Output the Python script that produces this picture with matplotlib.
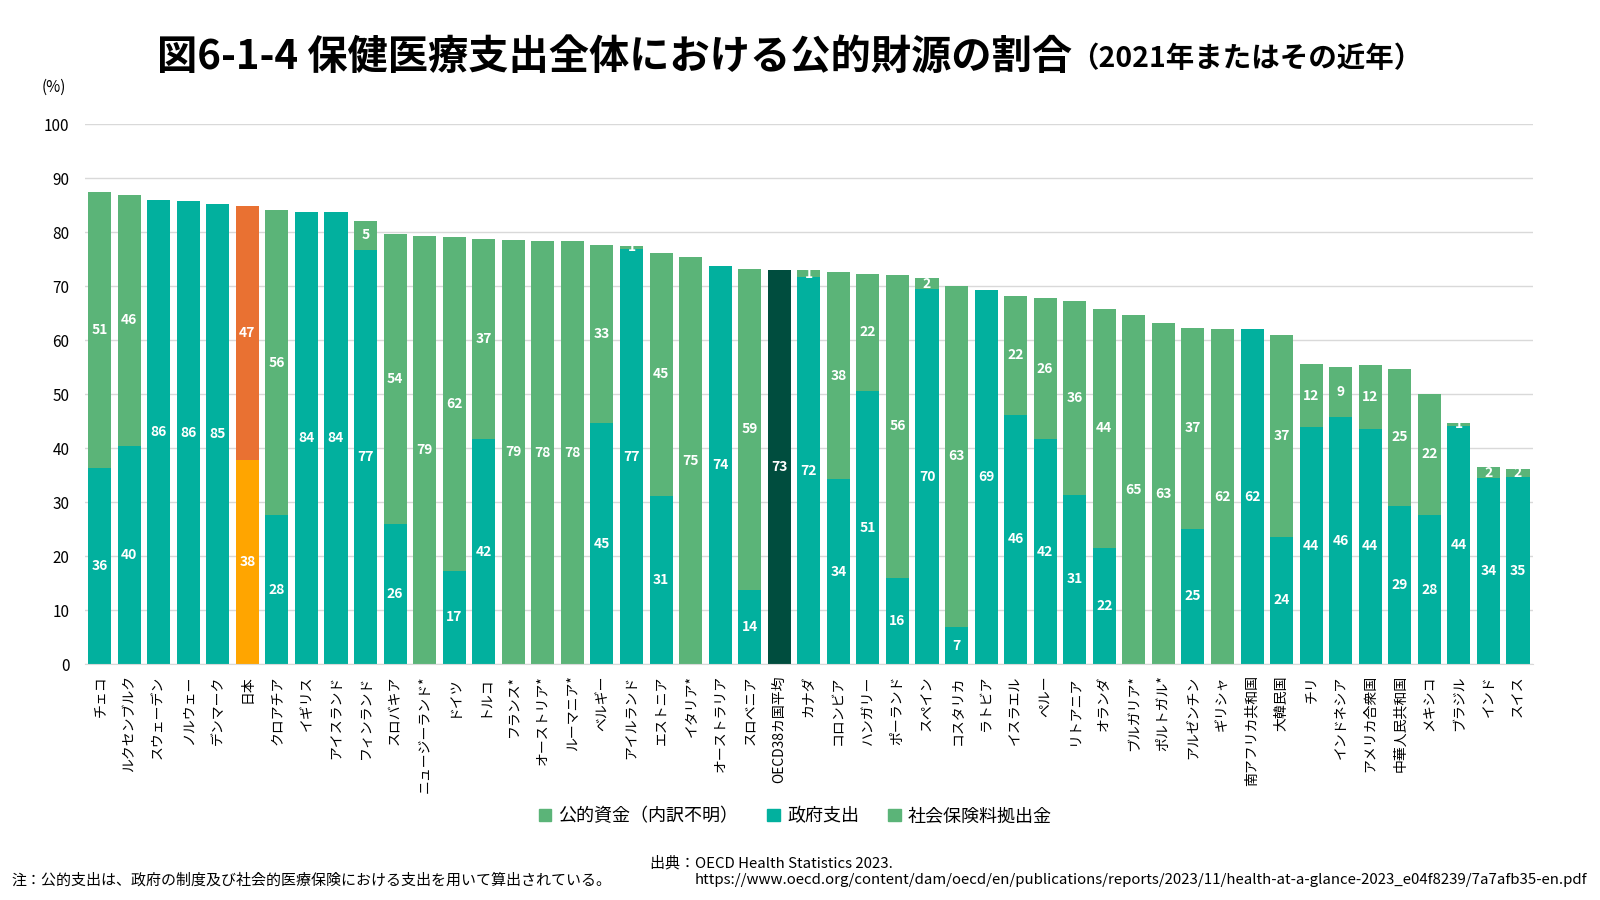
import matplotlib.pyplot as plt
from matplotlib.patches import Patch

plt.rcParams['font.family'] = ['Noto Sans CJK JP', 'DejaVu Sans']

countries = ['チェコ', 'ルクセンブルク', 'スウェーデン', 'ノルウェー', 'デンマーク', '日本',
             'クロアチア', 'イギリス', 'アイスランド', 'フィンランド', 'スロバキア', 'ニュージーランド*',
             'ドイツ', 'トルコ', 'フランス*', 'オーストリア*', 'ルーマニア*', 'ベルギー',
             'アイルランド', 'エストニア', 'イタリア*', 'オーストラリア', 'スロベニア', 'OECD38カ国平均',
             'カナダ', 'コロンビア', 'ハンガリー', 'ポーランド', 'スペイン', 'コスタリカ',
             'ラトビア', 'イスラエル', 'ペルー', 'リトアニア', 'オランダ', 'ブルガリア*',
             'ポルトガル*', 'アルゼンチン', 'ギリシャ', '南アフリカ共和国', '大韓民国', 'チリ',
             'インドネシア', 'アメリカ合衆国', '中華人民共和国', 'メキシコ', 'ブラジル', 'インド', 'スイス']

# 政府支出
government = [36.4, 40.4, 86.0, 85.8, 85.2, 37.8,
              27.6, 83.8, 83.8, 76.7, 26.0, 0,
              17.3, 41.7, 0, 0, 0, 44.6,
              76.9, 31.2, 0, 73.8, 13.8, 73.0,
              71.7, 34.3, 50.6, 16.0, 69.5, 6.9,
              69.3, 46.2, 41.7, 31.4, 21.5, 0,
              0, 25.1, 0, 62.1, 23.6, 43.9,
              45.8, 43.6, 29.3, 27.6, 44.1, 34.4, 34.6]

# 社会保険料拠出金
social = [51.1, 46.5, 0, 0, 0, 47.1,
          56.5, 0, 0, 5.4, 53.7, 0,
          61.9, 37.1, 0, 0, 0, 33.0,
          0.6, 45.0, 0, 0, 59.4, 0,
          1.3, 38.3, 21.7, 56.1, 2.0, 63.2,
          0, 22.0, 26.1, 35.9, 44.3, 0,
          0, 37.2, 62.1, 0, 37.4, 11.7,
          9.3, 11.8, 25.4, 22.5, 0.6, 2.1, 1.6]

# 公的資金（内訳不明）
unspecified = [0, 0, 0, 0, 0, 0,
               0, 0, 0, 0, 0, 79.3,
               0, 0, 78.6, 78.4, 78.4, 0,
               0, 0, 75.4, 0, 0, 0,
               0, 0, 0, 0, 0, 0,
               0, 0, 0, 0, 0, 64.7,
               63.2, 0, 0, 0, 0, 0,
               0, 0, 0, 0, 0, 0, 0]

TEAL = '#02B09E'
GREEN = '#5BB478'

gov_colors = [TEAL] * len(countries)
soc_colors = [GREEN] * len(countries)
gov_colors[countries.index('日本')] = '#FFA500'
soc_colors[countries.index('日本')] = '#E97132'
gov_colors[countries.index('OECD38カ国平均')] = '#004D3E'

fig = plt.figure(figsize=(16, 9), dpi=100)
ax = fig.add_axes([0.053, 0.262, 0.905, 0.6])

x = list(range(len(countries)))
w = 0.78
ax.bar(x, unspecified, w, color=GREEN, zorder=2)
ax.bar(x, government, w, color=gov_colors, zorder=2)
ax.bar(x, social, w, bottom=government, color=soc_colors, zorder=2)

lab = dict(color='white', fontweight='bold', fontsize=10, ha='center', va='center', zorder=3)
for i in x:
    if unspecified[i] > 0:
        ax.text(i, unspecified[i] / 2, f'{unspecified[i]:.0f}', **lab)
    if government[i] > 0:
        ax.text(i, government[i] / 2, f'{government[i]:.0f}', **lab)
    if social[i] > 0:
        ax.text(i, government[i] + social[i] / 2, f'{max(social[i], 1):.0f}', **lab)

ax.set_xlim(-0.5, len(countries) - 0.5)
ax.set_ylim(0, 100)
ax.set_yticks(range(0, 101, 10))
ax.yaxis.grid(True, color='#D9D9D9', linewidth=1, zorder=0)
ax.set_axisbelow(True)
for s in ['top', 'right', 'left']:
    ax.spines[s].set_visible(False)
ax.spines['bottom'].set_color('#D9D9D9')
ax.tick_params(axis='y', length=0, labelsize=11, pad=11)
ax.tick_params(axis='x', length=0, pad=8)
ax.set_xticks(x)
ax.set_xticklabels(countries, rotation=90, fontsize=10)

fig.text(0.026, 0.903, '(%)', fontsize=11, va='center', ha='left')

fig.text(0.098, 0.936, '図6-1-4 保健医療支出全体における公的財源の割合',
         fontsize=29, fontweight='bold', va='center', ha='left')
fig.text(0.669, 0.934, '（2021年またはその近年）',
         fontsize=20.5, fontweight='bold', va='center', ha='left')

handles = [Patch(color=GREEN, label='公的資金（内訳不明）'),
           Patch(color=TEAL, label='政府支出'),
           Patch(color=GREEN, label='社会保険料拠出金')]
fig.legend(handles=handles, loc='center', bbox_to_anchor=(0.497, 0.093), ncol=3,
           frameon=False, fontsize=13, handlelength=0.7, handleheight=0.7,
           handletextpad=0.4, columnspacing=1.6)

fig.text(0.007, 0.022, '注：公的支出は、政府の制度及び社会的医療保険における支出を用いて算出されている。',
         fontsize=10.8, va='center', ha='left')
fig.text(0.406, 0.041, '出典：OECD Health Statistics 2023.', fontsize=10.8, va='center', ha='left')
fig.text(0.434, 0.022,
         'https://www.oecd.org/content/dam/oecd/en/publications/reports/2023/11/health-at-a-glance-2023_e04f8239/7a7afb35-en.pdf',
         fontsize=10.8, va='center', ha='left')

fig.savefig('out.png', dpi=100)
